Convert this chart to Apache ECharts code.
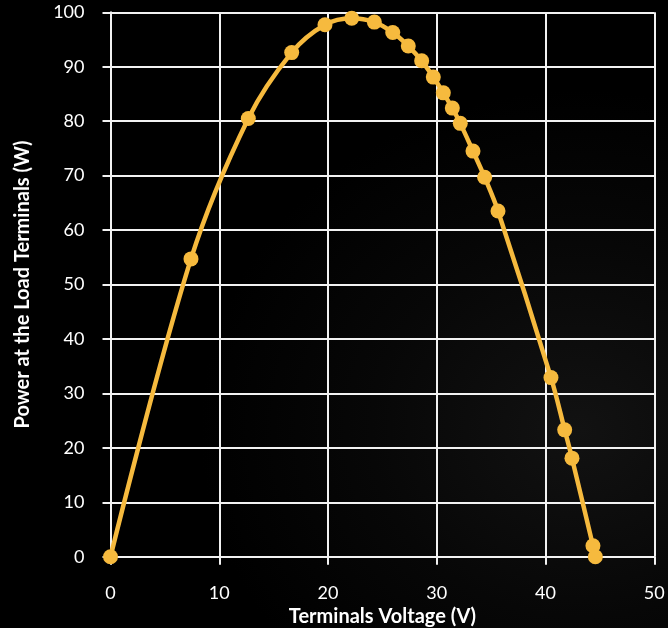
<!DOCTYPE html>
<html>
<head>
<meta charset="utf-8">
<script src="https://cdn.jsdelivr.net/npm/echarts@6/dist/echarts.min.js"></script>
<style>
html,body{margin:0;padding:0;width:668px;height:628px;overflow:hidden;
background: radial-gradient(ellipse 380px 340px at 580px 430px, #121212 0%, #070707 55%, #000 100%);}
#c{width:668px;height:628px;}
</style>
</head>
<body>
<div id="c"></div>
<script>
var voltage = [0, 7.4, 12.67, 16.66, 19.72, 22.18, 24.26, 25.95, 27.38, 28.61, 29.68, 30.60, 31.43, 32.16, 33.33, 34.4, 35.63, 40.50, 41.76, 42.43, 44.36, 44.58];
var power   = [0, 54.7, 80.5, 92.6, 97.7, 98.9, 98.2, 96.3, 93.8, 91.1, 88.1, 85.2, 82.4, 79.6, 74.5, 69.7, 63.5, 32.9, 23.3, 18.1, 2.0, 0];
var xTicks = {min: 0, max: 50, interval: 10};
var yTicks = {min: 0, max: 100, interval: 10};

var pts = voltage.map(function(v, i){ return [v, power[i]]; });
var font = 'Lato, "Open Sans", sans-serif';
var chart = echarts.init(document.getElementById('c'), null, {renderer: 'canvas'});
chart.setOption({
  backgroundColor: 'transparent',
  animation: false,
  grid: {left: 110.5, right: 13.7, top: 12.3, bottom: 71.3, containLabel: false, outerBoundsMode: 'none'},
  xAxis: {
    type: 'value', min: xTicks.min, max: xTicks.max, interval: xTicks.interval,
    name: 'Terminals Voltage (V)', nameLocation: 'middle', nameGap: 42,
    nameTextStyle: {color: '#fff', fontFamily: font, fontWeight: 'bold', fontSize: 20},
    axisLine: {show: true, lineStyle: {color: '#f2f2f2', width: 2}},
    axisTick: {show: true, length: 8, lineStyle: {color: '#f2f2f2', width: 2}},
    axisLabel: {color: '#fff', fontFamily: font, fontSize: 18, margin: 27},
    splitLine: {show: true, lineStyle: {color: '#f2f2f2', width: 2}}
  },
  yAxis: {
    type: 'value', min: yTicks.min, max: yTicks.max, interval: yTicks.interval,
    name: 'Power at the Load Terminals (W)', nameLocation: 'middle', nameGap: 78,
    nameTextStyle: {color: '#fff', fontFamily: font, fontWeight: 'bold', fontSize: 20},
    axisLine: {show: true, lineStyle: {color: '#f2f2f2', width: 2}},
    axisTick: {show: true, length: 8, lineStyle: {color: '#f2f2f2', width: 2}},
    axisLabel: {color: '#fff', fontFamily: font, fontSize: 18, margin: 26},
    splitLine: {show: true, lineStyle: {color: '#f2f2f2', width: 2}}
  },
  series: [{
    type: 'line',
    data: pts,
    smooth: 0.35,
    symbol: 'circle',
    symbolSize: 15,
    lineStyle: {color: '#F6BA3E', width: 4.5},
    itemStyle: {color: '#F6BA3E'},
    clip: false
  }]
});
</script>
</body>
</html>
